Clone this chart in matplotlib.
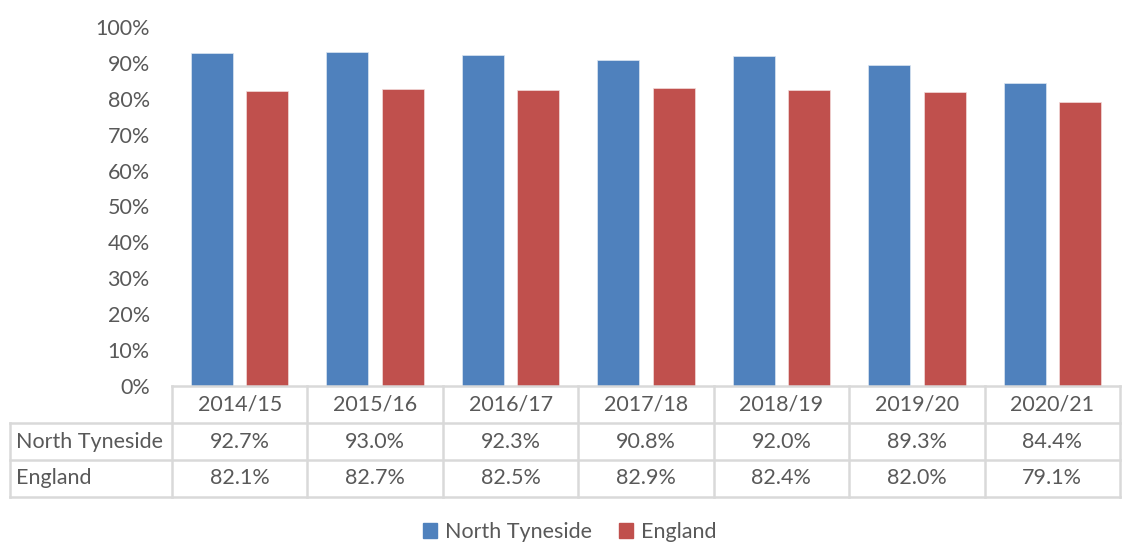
import matplotlib.pyplot as plt
import numpy as np
from matplotlib.patches import Patch

years = ['2014/15', '2015/16', '2016/17', '2017/18', '2018/19', '2019/20', '2020/21']
north_tyneside = [92.7, 93.0, 92.3, 90.8, 92.0, 89.3, 84.4]
england = [82.1, 82.7, 82.5, 82.9, 82.4, 82.0, 79.1]
series_names = ['North Tyneside', 'England']

blue = '#4f81bd'
red = '#c0504d'
grey = '#595959'
grid_col = '#d9d9d9'

plt.rcParams['font.family'] = ['Lato', 'DejaVu Sans']

W, H = 1126, 543
fig = plt.figure(figsize=(W / 100, H / 100), dpi=100)

# plot area in pixels
x0, x1 = 172, 1120
y_top, y_zero = 27, 386
row_h = 37
lab_x = 10

ax = fig.add_axes([x0 / W, 1 - y_zero / H, (x1 - x0) / W, (y_zero - y_top) / H])
n = len(years)
x = np.arange(n)
bw = 0.31
off = 0.205
ax.bar(x - off, north_tyneside, bw, color=blue, edgecolor='#dce6f2', linewidth=0.5)
ax.bar(x + off, england, bw, color=red, edgecolor='#f2dcdb', linewidth=0.5)
ax.set_xlim(-0.5, n - 0.5)
ax.set_ylim(0, 100)
ax.set_yticks(np.arange(0, 101, 10))
ax.set_yticklabels([f'{v}%' for v in range(0, 101, 10)])
fs = 15.5
ax.tick_params(axis='y', length=0, labelsize=fs, labelcolor=grey, pad=16)
ax.set_xticks([])
for s in ax.spines.values():
    s.set_visible(False)

# table overlay in pixel coordinates
ov = fig.add_axes([0, 0, 1, 1])
ov.set_xlim(0, W)
ov.set_ylim(H, 0)
ov.axis('off')
ov.patch.set_alpha(0)

cw = (x1 - x0) / n
lw = 1.8
# horizontal lines
ov.plot([x0, x1], [y_zero, y_zero], color=grid_col, lw=lw)
for k in (1, 2, 3):
    ov.plot([lab_x, x1], [y_zero + k * row_h] * 2, color=grid_col, lw=lw)
# vertical lines
ov.plot([lab_x, lab_x], [y_zero + row_h, y_zero + 3 * row_h], color=grid_col, lw=lw)
for i in range(n + 1):
    xx = x0 + i * cw
    ov.plot([xx, xx], [y_zero, y_zero + 3 * row_h], color=grid_col, lw=lw)

for i, yr in enumerate(years):
    cx = x0 + (i + 0.5) * cw
    ov.text(cx, y_zero + row_h / 2, yr, ha='center', va='center', fontsize=fs, color=grey)
    ov.text(cx, y_zero + 1.5 * row_h, f'{north_tyneside[i]:.1f}%', ha='center', va='center', fontsize=fs, color=grey)
    ov.text(cx, y_zero + 2.5 * row_h, f'{england[i]:.1f}%', ha='center', va='center', fontsize=fs, color=grey)
for k, name in enumerate(series_names):
    ov.text(lab_x + 6, y_zero + (1.5 + k) * row_h, name, ha='left', va='center', fontsize=fs, color=grey)

handles = [Patch(color=blue, label=series_names[0]), Patch(color=red, label=series_names[1])]
leg = fig.legend(handles=handles, loc='center', bbox_to_anchor=(0.506, 0.02), ncol=2,
                 frameon=False, fontsize=fs, handlelength=0.65, handleheight=0.65,
                 handletextpad=0.35, columnspacing=1.3, borderpad=0)
for t in leg.get_texts():
    t.set_color(grey)

fig.savefig('out.png', dpi=100)
